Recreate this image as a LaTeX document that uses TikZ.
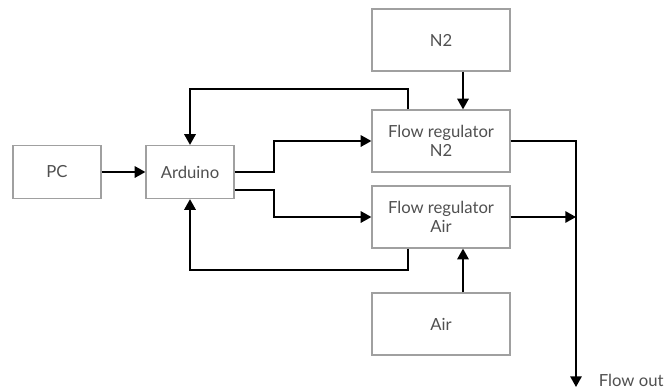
\documentclass[tikz,border=0pt]{standalone}
\usepackage{fontspec}
\setmainfont{Lato}
\usepackage{tikz}
\usetikzlibrary{positioning,arrows.meta}
\usepackage{xcolor}
\definecolor{boxgray}{RGB}{160,160,160}
\definecolor{textgray}{RGB}{80,80,80}

\begin{document}
\begin{tikzpicture}[
    x=0.75pt, y=-0.75pt,
    block/.style={
      rectangle, draw=boxgray, line width=0.9pt,
      minimum width=66pt, minimum height=39.75pt,
      align=center, font=\fontsize{12.5}{14}\selectfont, text=textgray,
      inner sep=0pt
    },
    wide/.style={block, minimum width=103.5pt, minimum height=46.5pt},
    arrow/.style={-{Triangle[length=8pt,width=8.5pt]}, line width=1.4pt},
  ]
  \useasboundingbox (0,0) rectangle (668,390);

  %% Nodes
  \node[block] (pc) at (57,172) {PC};
  \node[block] (ard) at (190,172) {Arduino};
  \node[wide] (n2) at (441,40) {N2};
  \node[wide] (frn2) at (441,141) {Flow regulator\\N2};
  \node[wide] (frair) at (441,217) {Flow regulator\\Air};
  \node[wide] (air) at (441,324) {Air};

  %% Output
  \coordinate (out) at (576,387);
  \node[right=17pt of out, yshift=5pt, font=\fontsize{12.5}{14}\selectfont,
    text=textgray, inner sep=0pt] (outlbl) {Flow out};

  %% Arrows
  \draw[arrow] (pc) -- (ard);
  \draw[arrow] (ard.east) -- ++(39,0) |- (frn2.west);
  \draw[arrow] ([yshift=-13.5pt]ard.east) -- ++(39,0) |- (frair.west);
  \draw[arrow] ([xshift=16.5pt]n2.south) -- ([xshift=16.5pt]frn2.north);
  \draw[arrow] ([xshift=16.5pt]air.north) -- ([xshift=16.5pt]frair.south);

  %% Feedback
  \draw[arrow] ([xshift=-24.75pt]frn2.north) -- ++(0,-20) -| (ard.north);
  \draw[arrow] ([xshift=-24.75pt]frair.south) -- ++(0,21) -| (ard.south);

  %% Flow out
  \draw[arrow] (frn2.east) -| (out);
  \draw[arrow] (frair.east) -- (frair.east -| out);

\end{tikzpicture}
\end{document}
